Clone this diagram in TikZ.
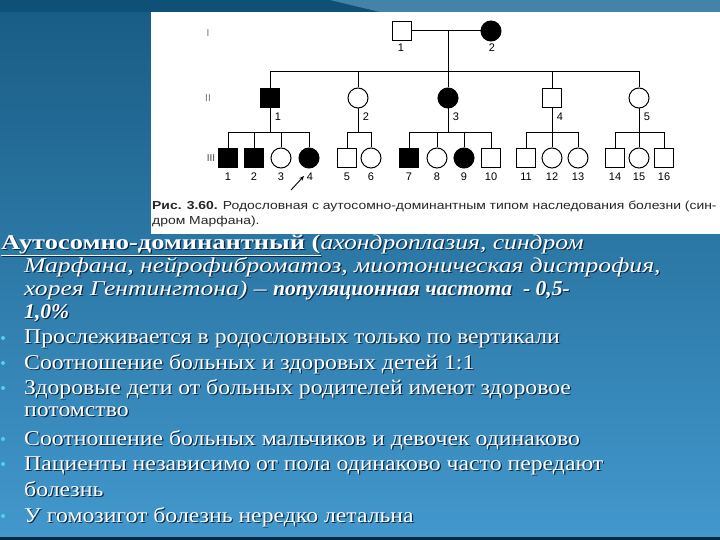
\documentclass[tikz,border=0pt]{standalone}
\usepackage{fontspec}
\setmainfont{Liberation Serif}[UprightFeatures={FakeStretch=1.13},ItalicFeatures={FakeStretch=1.22},BoldFeatures={FakeStretch=1.26},BoldItalicFeatures={FakeStretch=1.03}]
\newfontfamily\capfont{Liberation Sans}[FakeStretch=1.2]
\newfontfamily\numfont{Liberation Sans}
\usetikzlibrary{arrows.meta}
\definecolor{bgtop}{RGB}{24,92,132}
\definecolor{bgbot}{RGB}{66,152,205}
\definecolor{bandc}{RGB}{14,80,118}
\definecolor{bulc}{RGB}{80,210,230}
\definecolor{shc}{RGB}{10,40,70}
\newcommand\txtline[4]{%
  \node[txt,text=shc] (#1s) at (#2+1.2,#3+1.2) {#4};
  \node[txt] (#1) at (#2,#3) {#4};}
\begin{document}
\begin{tikzpicture}[x=1pt,y=-1pt,
  sym/.style={draw=black,line width=1pt,inner sep=0pt,fill=white},
  sq/.style={sym,rectangle,minimum size=19pt},
  ci/.style={sym,circle,minimum size=20pt},
  aff/.style={fill=black},
  lnk/.style={line width=1pt,draw=black},
  num/.style={font=\numfont\fontsize{11}{11}\selectfont,inner sep=0pt},
  gen/.style={font=\numfont\fontsize{10}{10}\selectfont,text=black!55,inner sep=0pt},
  captxt/.style={font=\capfont\fontsize{11.6}{12}\selectfont,anchor=base west,inner sep=0pt,text=black!85},
  txt/.style={anchor=base west,inner sep=0pt,text=white,font=\fontsize{21}{22}\selectfont},
  bul/.style={circle,fill=bulc,inner sep=0pt,minimum size=4pt}]
\useasboundingbox (0,0) rectangle (720,540);
% background
\shade[top color=bgtop,bottom color=bgbot] (0,0) rectangle (720,540);
\fill[bandc] (0,0) rectangle (720,12);
\fill[bgbot!70!white,opacity=0.5] (330,0) -- (720,0) -- (720,12) -- (380,12) -- cycle;
\fill[shc] (0,537) rectangle (720,540);
% white panel
\fill[white] (151,12) rectangle (720,234);
% generation labels
\node[gen] (gI) at (208,33) {I};
\node[gen] (gII) at (208,98) {II};
\node[gen,text=black!75] (gIII) at (211,158) {III};
% generation I
\node[sq] (I1) at (402,31) {};
\node[ci,aff] (I2) at (491,31) {};
\node[num] (nI1) at (401,48) {1};
\node[num] (nI2) at (492,48) {2};
% generation II
\node[sq,aff] (II1) at (270,98) {};
\node[ci] (II2) at (358,98) {};
\node[ci,aff] (II3) at (448,98) {};
\node[sq] (II4) at (552,98) {};
\node[ci] (II5) at (639,98) {};
\foreach \i/\x in {1/270,2/358,3/448,4/552,5/639}{\node[num] (nII\i) at (\x+8,117) {\i};}
% generation III
\node[sq,aff] (III1) at (228,158) {};
\node[sq,aff] (III2) at (254,158) {};
\node[ci] (III3) at (281,158) {};
\node[ci,aff] (III4) at (309,158) {};
\node[sq] (III5) at (347,158) {};
\node[ci] (III6) at (371,158) {};
\node[sq,aff] (III7) at (409,158) {};
\node[ci] (III8) at (437,158) {};
\node[ci,aff] (III9) at (464,158) {};
\node[sq] (III10) at (491,158) {};
\node[sq] (III11) at (526,158) {};
\node[ci] (III12) at (552,158) {};
\node[ci] (III13) at (578,158) {};
\node[sq] (III14) at (615,158) {};
\node[ci] (III15) at (639,158) {};
\node[sq] (III16) at (664,158) {};
\foreach \i/\x in {1/228,2/254,3/281,4/310,5/347,6/371,7/409,8/437,9/464,10/491,11/526,12/552,13/578,14/615,15/639,16/664}{\node[num] (nIII\i) at (\x,177) {\i};}
% connectors
\coordinate (mI) at (448,31);
\coordinate (sII) at (448,72);
\draw[lnk] (I1.east) -- (I2.west);
\draw[lnk] (mI) -- (II3.north);
\draw[lnk] (II1.north) -- (II1.north |- sII) -- (II5.north |- sII) -- (II5.north);
\draw[lnk] (II2.north) -- (II2.north |- sII);
\draw[lnk] (II4.north) -- (II4.north |- sII);
\coordinate (sIII) at (0,133);
% family of II-1
\draw[lnk] (II1.south) -- (II1.south |- sIII);
\draw[lnk] (III1.north) -- (III1.north |- sIII) -- (III4.north |- sIII) -- (III4.north);
\draw[lnk] (III2.north) -- (III2.north |- sIII);
\draw[lnk] (III3.north) -- (III3.north |- sIII);
% family of II-2
\draw[lnk] (II2.south) -- (II2.south |- sIII);
\draw[lnk] (III5.north) -- (III5.north |- sIII) -- (III6.north |- sIII) -- (III6.north);
% family of II-3
\draw[lnk] (II3.south) -- (II3.south |- sIII);
\draw[lnk] (III7.north) -- (III7.north |- sIII) -- (III10.north |- sIII) -- (III10.north);
\draw[lnk] (III8.north) -- (III8.north |- sIII);
\draw[lnk] (III9.north) -- (III9.north |- sIII);
% family of II-4
\draw[lnk] (II4.south) -- (II4.south |- sIII);
\draw[lnk] (III11.north) -- (III11.north |- sIII) -- (III13.north |- sIII) -- (III13.north);
\draw[lnk] (III12.north) -- (III12.north |- sIII);
% family of II-5
\draw[lnk] (II5.south) -- (II5.south |- sIII);
\draw[lnk] (III14.north) -- (III14.north |- sIII) -- (III16.north |- sIII) -- (III16.north);
\draw[lnk] (III15.north) -- (III15.north |- sIII);
% proband arrow
\coordinate (arS) at (291,190);
\coordinate (arE) at (304,176);
\draw[line width=0.9pt,-{Stealth[length=5pt,width=4pt]}] (arS) -- (arE);
% caption
\node[captxt] (cap1) at (152,210) {\textbf{Рис. 3.60.} Родословная с аутосомно-доминантным типом наследования болезни (син-};
\node[captxt] (cap2) at (152,225) {дром Марфана).};
% text block
\txtline{t1}{1}{249}{\textbf{\underline{Аутосомно-доминантный (}}\textit{ахондроплазия, синдром}}
\txtline{t2}{24}{272}{\textit{Марфана, нейрофиброматоз, миотоническая дистрофия,}}
\txtline{t3}{24}{295}{\textit{хорея Гентингтона) – \textbf{популяционная частота \ - 0,5-}}}
\txtline{t4}{24}{318}{\textit{\textbf{1,0\%}}}
\txtline{b1}{24}{343}{Прослеживается в родословных только по вертикали}
\txtline{b2}{24}{369}{Соотношение больных и здоровых детей 1:1}
\txtline{b3}{24}{394}{Здоровые дети от больных родителей имеют здоровое}
\txtline{b3b}{24}{416}{потомство}
\txtline{b4}{24}{445}{Соотношение больных мальчиков и девочек одинаково}
\txtline{b5}{24}{470}{Пациенты независимо от пола одинаково часто передают}
\txtline{b5b}{24}{496}{болезнь}
\txtline{b6}{24}{522}{У гомозигот болезнь нередко летальна}
\foreach \n/\y in {1/338,2/363,3/388,4/439,5/464,6/516}{\node[bul] (d\n) at (3,\y) {};}
\end{tikzpicture}
\end{document}
